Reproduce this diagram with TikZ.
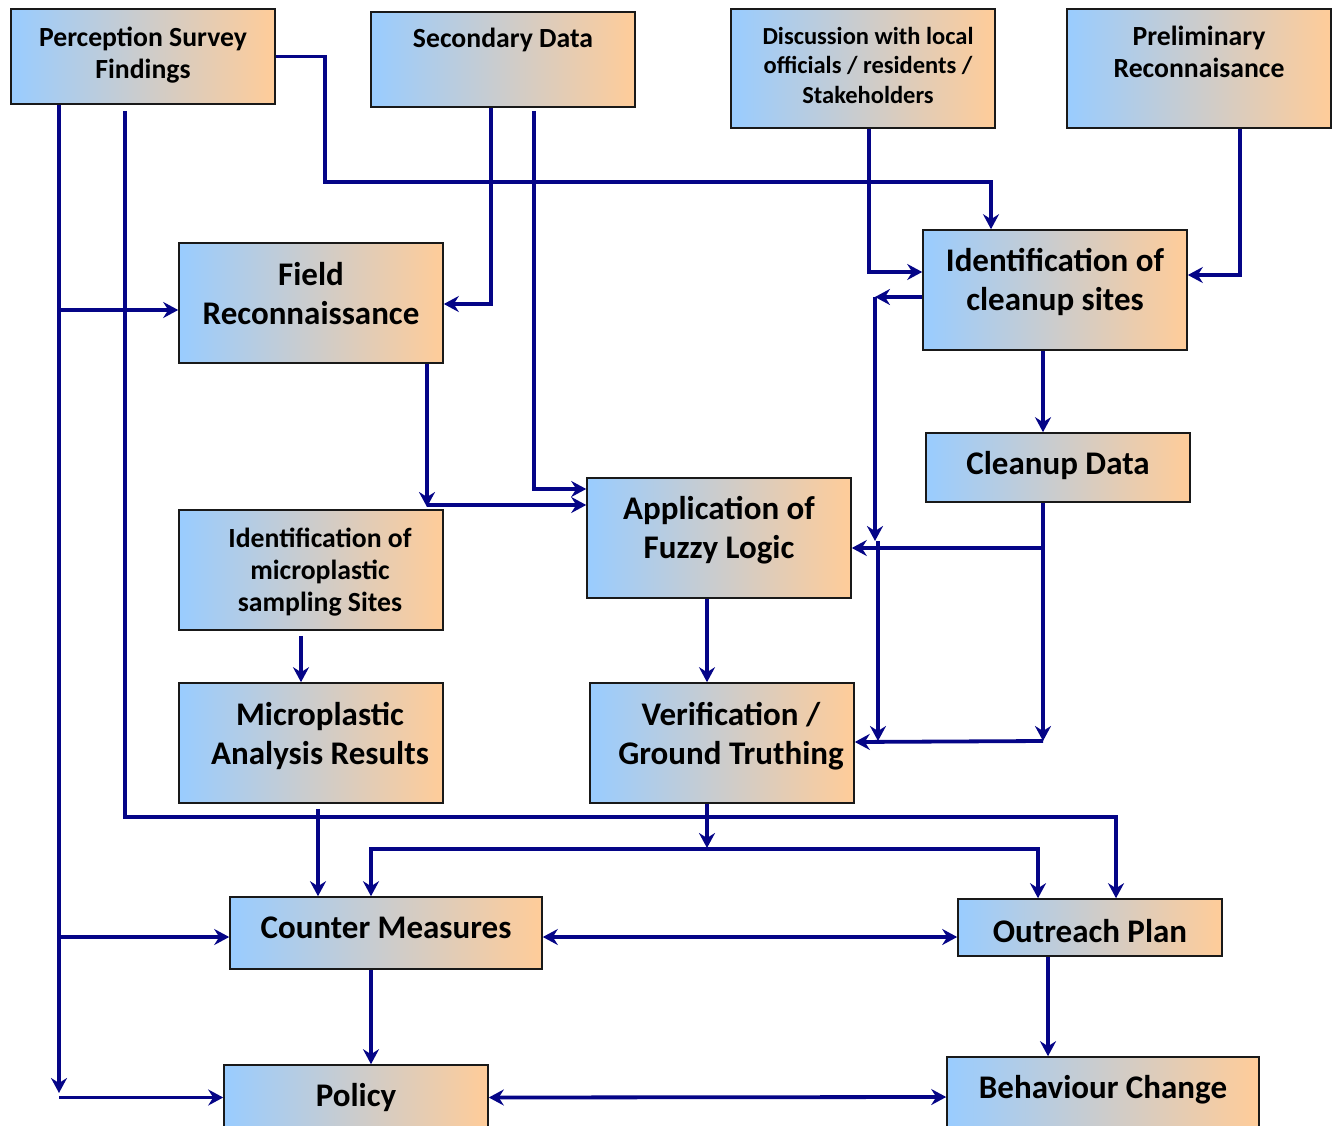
\documentclass[tikz,border=0pt]{standalone}
\usepackage{fontspec}
\setmainfont{Carlito}
\usetikzlibrary{arrows.meta}

\definecolor{boxblue}{RGB}{153,204,255}
\definecolor{boxpeach}{RGB}{255,204,153}
\definecolor{flowline}{RGB}{5,5,135}

\tikzset{
  stagebox/.style={draw=black!90, line width=1.6pt, left color=boxblue, right color=boxpeach,
    inner sep=0pt, rectangle},
  bigtxt/.style={align=center, inner sep=0pt, font=\bfseries\fontsize{33}{39}\selectfont},
  midtxt/.style={align=center, inner sep=0pt, font=\bfseries\fontsize{27.7}{32}\selectfont},
  smalltxt/.style={align=center, inner sep=0pt, font=\bfseries\fontsize{24.5}{29.5}\selectfont},
  conn/.style={draw=flowline, line width=3.8pt,
    -{Stealth[length=15pt, width=16pt, inset=5pt]}},
  conntwo/.style={draw=flowline, line width=3.8pt,
    {Stealth[length=15pt, width=16pt, inset=5pt]}-{Stealth[length=15pt, width=16pt, inset=5pt]}},
}

\begin{document}
\begin{tikzpicture}[x=1pt, y=-1pt]
\useasboundingbox (0,0) rectangle (1338,1126);
\clip (0,0) rectangle (1338,1126);

% ---- boxes ----
\node[stagebox, minimum width=264pt, minimum height=95pt]  (psf)   at (143,56.5)  {};
\node[stagebox, minimum width=264pt, minimum height=95pt]  (sec)   at (503,59.5)  {};
\node[stagebox, minimum width=264pt, minimum height=119pt] (disc)  at (863,68.5)  {};
\node[stagebox, minimum width=264pt, minimum height=119pt] (prel)  at (1199,68.5) {};
\node[stagebox, minimum width=264pt, minimum height=120pt] (field) at (311,303)   {};
\node[stagebox, minimum width=264pt, minimum height=120pt] (icl)   at (1055,290)  {};
\node[stagebox, minimum width=264pt, minimum height=69pt]  (cdata) at (1058,467.5) {};
\node[stagebox, minimum width=264pt, minimum height=120pt] (fuzzy) at (719,538)   {};
\node[stagebox, minimum width=264pt, minimum height=120pt] (imp)   at (311,570)   {};
\node[stagebox, minimum width=264pt, minimum height=120pt] (mar)   at (311,743)   {};
\node[stagebox, minimum width=264pt, minimum height=120pt] (ver)   at (722,743)   {};
\node[stagebox, minimum width=312pt, minimum height=72pt]  (cm)    at (386,933)   {};
\node[stagebox, minimum width=264pt, minimum height=57pt]  (op)    at (1090,927.5) {};
\node[stagebox, minimum width=264pt, minimum height=65pt]  (pol)   at (356,1097.5) {};
\node[stagebox, minimum width=312pt, minimum height=75pt]  (beh)   at (1103,1094.5) {};

% ---- labels ----
\node[midtxt]   (psf-t)   at (143,55)   {Perception Survey\\Findings};
\node[midtxt]   (sec-t)   at (503,40)   {Secondary Data};
\node[smalltxt] (disc-t)  at (868,65)   {Discussion with local\\officials / residents /\\Stakeholders};
\node[midtxt]   (prel-t)  at (1199,52)  {Preliminary\\Reconnaisance};
\node[bigtxt]   (field-t) at (311,294)  {Field\\Reconnaissance};
\node[bigtxt]   (icl-t)   at (1055,282) {Identification of\\cleanup sites};
\node[bigtxt]   (cdata-t) at (1058,466) {Cleanup Data};
\node[bigtxt]   (fuzzy-t) at (719,530)  {Application of\\Fuzzy Logic};
\node[midtxt]   (imp-t)   at (320,572)  {Identification of\\microplastic\\sampling Sites};
\node[bigtxt]   (mar-t)   at (320,736)  {Microplastic\\Analysis Results};
\node[bigtxt]   (ver-t)   at (731,736)  {Verification /\\Ground Truthing};
\node[bigtxt]   (cm-t)    at (386,928)  {Counter Measures};
\node[bigtxt]   (op-t)    at (1090,931) {Outreach Plan};
\node[bigtxt]   (pol-t)   at (356,1098) {Policy};
\node[bigtxt]   (beh-t)   at (1103,1090) {Behaviour Change};

% ---- junctions and bends ----
\coordinate (pL)  at (59,1093);
\coordinate (pM3) at (1116,817);
\coordinate (pR2) at (325,182);
\coordinate (f1)  at (427,507);
\coordinate (c1)  at (875,297);
\coordinate (c2)  at (875,541);
\coordinate (c3)  at (878,541);
\coordinate (c4)  at (878,741);
\coordinate (k1)  at (1043,548);
\coordinate (k2)  at (1043,741);
\coordinate (v1)  at (707,849);
\coordinate (fieldIn) at ([yshift=-7pt]field.west);
\coordinate (cmIn)    at ([yshift=-4pt]cm.west);

% ---- perception survey feeds ----
\draw[conn] ([xshift=-84pt]psf.south) -- (pL);
\draw[conn] (pL |- fieldIn) -- (fieldIn);
\draw[conn] (pL |- cmIn) -- (cmIn);
\draw[conn] (pL |- pol.west) -- (pol.west);
\draw[conn] ([xshift=-18pt,yshift=-6pt]psf.south) |- (pM3) -- ([xshift=26pt]op.north);
\draw[conn] (psf.east) -| (pR2) -| ([xshift=-64pt]icl.north);

% ---- secondary data ----
\draw[conn] ([xshift=-12pt]sec.south) |- ([yshift=-1pt]field.east);
\draw[conn] ([xshift=31pt,yshift=-3pt]sec.south) |- ([yshift=49pt]fuzzy.west);

% ---- field reconnaissance ----
\draw[conn] ([xshift=116pt]field.south) -- (f1);
\draw[conn] ([yshift=2pt]f1) -- ([yshift=33pt]fuzzy.west);

% ---- cleanup site identification ----
\draw[conn] ([xshift=6pt]disc.south) |- ([yshift=18pt]icl.west);
\draw[conn] ([xshift=41pt]prel.south) |- ([yshift=15pt]icl.east);
\draw[conn] ([yshift=-7pt]icl.west) -- (c1);
\draw[conn] (c1) -- (c2);
\draw[conn] (c3) -- (c4);
\draw[conn] ([xshift=-12pt]icl.south) -- ([xshift=-15pt]cdata.north);
\draw[conn] ([xshift=-15pt]cdata.south) -- (k2);
\draw[conn] (k1) -- ([yshift=-10pt]fuzzy.east);
\draw[conn] (k2) -- ([yshift=1pt]ver.east);

% ---- analysis chain ----
\draw[conn] ([xshift=-12pt]fuzzy.south) -- ([xshift=-15pt]ver.north);
\draw[conn] ([xshift=-10pt,yshift=-5pt]imp.south) -- ([xshift=-10pt]mar.north);
\draw[conn] ([xshift=7pt,yshift=-5pt]mar.south) -- ([xshift=-68pt]cm.north);
\draw[conn] ([xshift=-15pt]ver.south) -- ([yshift=1pt]v1);
\draw[conn] (v1) -| ([xshift=-15pt]cm.north);
\draw[conn] (v1) -| ([xshift=-52pt]op.north);

% ---- outcomes ----
\draw[conntwo] ([yshift=-4pt]cm.east) -- ([yshift=-9.5pt]op.west);
\draw[conn] ([xshift=-15pt]cm.south) -- ([xshift=15pt]pol.north);
\draw[conn] ([xshift=-42pt]op.south) -- ([xshift=-55pt]beh.north);
\draw[conntwo] (pol.east) -- ([yshift=-2.5pt]beh.west);
\end{tikzpicture}
\end{document}
